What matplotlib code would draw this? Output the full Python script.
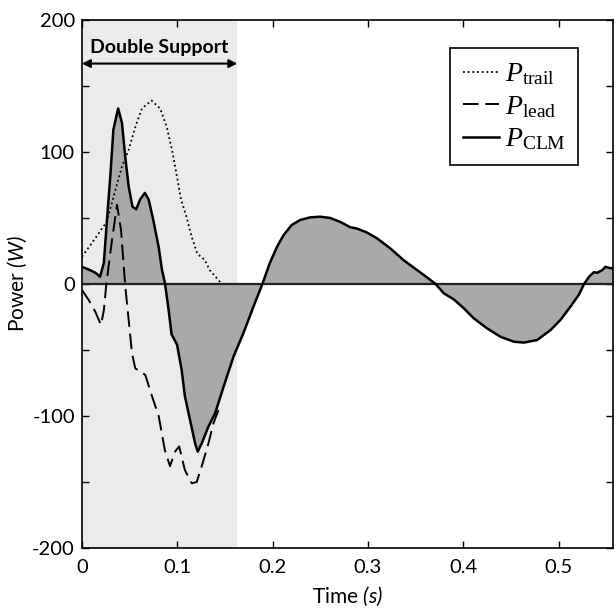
import matplotlib
matplotlib.use("Agg")
import matplotlib.pyplot as plt
from matplotlib.ticker import MultipleLocator

plt.rcParams["font.family"] = ["Lato", "DejaVu Sans"]
plt.rcParams["axes.unicode_minus"] = False
plt.rcParams["mathtext.fontset"] = "custom"
plt.rcParams["mathtext.rm"] = "Liberation Serif"
plt.rcParams["mathtext.it"] = "Liberation Serif:italic"
plt.rcParams["mathtext.sf"] = "Lato:italic"

# power of the combined limbs (solid, filled)
t_clm = [0.000, 0.007, 0.014, 0.019, 0.023, 0.026, 0.030, 0.033, 0.038, 0.042,
         0.0455, 0.049, 0.053, 0.057, 0.061, 0.066, 0.070, 0.075, 0.0805, 0.084,
         0.087, 0.091, 0.094, 0.0998, 0.1046, 0.108, 0.1134, 0.1187, 0.1215, 0.1257,
         0.1327, 0.1397, 0.1485, 0.159, 0.1695, 0.180, 0.1893, 0.197, 0.2045, 0.2115,
         0.220, 0.229, 0.2395, 0.250, 0.2605, 0.271, 0.2815, 0.2885, 0.299, 0.3095,
         0.3235, 0.3375, 0.3515, 0.362, 0.371, 0.3795, 0.390, 0.4006, 0.411, 0.425,
         0.439, 0.4531, 0.4636, 0.4776, 0.4917, 0.5022, 0.5126, 0.5214, 0.5267, 0.532,
         0.537, 0.5406, 0.546, 0.549, 0.554, 0.557]
p_clm = [13, 11, 8.6, 5.5, 16, 46, 84, 117, 133, 122,
         96, 74, 58.6, 56.6, 64, 69, 64, 48, 28, 10.6,
         1, -20, -38, -46, -65, -85, -103, -120.7, -127, -120.7,
         -108, -98, -78, -55, -37, -17, 0, 15.7, 28, 37,
         44.7, 48.5, 50.5, 51, 50, 47, 43, 42, 39, 34.6,
         27, 18, 10.6, 5, 0, -7, -11.6, -18.4, -26, -33.6,
         -40, -43.7, -44.4, -42.4, -34.8, -27, -17, -8, 0, 5.5,
         9, 8.5, 10.6, 13, 12, 12]

# trailing leg (dotted)
t_trail = [0.000, 0.0105, 0.021, 0.026, 0.035, 0.042, 0.049, 0.056, 0.063, 0.073,
           0.082, 0.089, 0.0945, 0.0998, 0.104, 0.110, 0.115, 0.121, 0.129, 0.134,
           0.1467]
p_trail = [20.7, 31, 42, 47, 71, 89, 101.5, 119, 133, 139,
           133, 119, 101.5, 81, 64, 50, 36, 23, 18, 10.6,
           0]

# leading leg (dashed)
t_lead = [0.000, 0.007, 0.014, 0.020, 0.023, 0.0256, 0.0315, 0.0368, 0.041, 0.0455,
          0.049, 0.0525, 0.056, 0.061, 0.0665, 0.0735, 0.0805, 0.087, 0.0924, 0.0977,
          0.102, 0.108, 0.1152, 0.1204, 0.1257, 0.1327, 0.138, 0.1432]
p_lead = [-4.5, -12, -21, -31, -20, 0, 33, 60, 41, -2,
          -27, -52.5, -64, -66, -69, -85, -100, -126, -138, -127,
          -123, -141, -151, -150, -138, -120.7, -105.5, -95.5]

ds_end = 0.163


def main():
    fig = plt.figure(figsize=(6.16, 6.12), dpi=100)
    ax = fig.add_axes([0.133, 0.1046, 0.862, 0.8627])

    ax.axvspan(0, ds_end, color="#ebebeb", lw=0, zorder=0)
    ax.fill_between(t_clm, p_clm, 0, color="#a9a9a9", lw=0, zorder=1)
    ax.axhline(0, color="#222222", lw=1.6, zorder=2)

    ax.plot(t_trail, p_trail, color="black", lw=1.3, ls=(0, (1, 1.6)),
            zorder=3, label=r"$P_{\mathrm{trail}}$")
    ax.plot(t_lead, p_lead, color="black", lw=1.4, ls=(0, (8, 3.5)),
            zorder=3, label=r"$P_{\mathrm{lead}}$")
    ax.plot(t_clm, p_clm, color="black", lw=1.8, zorder=4,
            label=r"$P_{\mathrm{CLM}}$")

    ax.annotate("", xy=(0, 167), xytext=(ds_end, 167),
                arrowprops=dict(arrowstyle="<|-|>", color="black", lw=1.5,
                                mutation_scale=12, shrinkA=0, shrinkB=0))
    ax.text(ds_end / 2, 179, "Double Support", ha="center", va="center",
            fontsize=14, fontweight="bold")

    ax.set_xlim(0, 0.557)
    ax.set_ylim(-200, 200)
    ax.yaxis.set_major_locator(MultipleLocator(100))
    ax.yaxis.set_minor_locator(MultipleLocator(50))
    ax.set_xticks([0, 0.1, 0.2, 0.3, 0.4, 0.5])
    ax.set_xticklabels(["0", "0.1", "0.2", "0.3", "0.4", "0.5"])
    ax.tick_params(which="both", direction="in", top=True, right=True,
                   labelsize=14.5, width=1)
    ax.tick_params(which="major", length=5, pad=5)
    ax.tick_params(axis="x", which="major", pad=8)
    ax.tick_params(which="minor", length=5)
    for s in ax.spines.values():
        s.set_linewidth(1.2)

    ax.set_xlabel(r"Time $\mathsf{(s)}$", fontsize=15, labelpad=6)
    ax.set_ylabel(r"Power $\mathsf{(W)}$", fontsize=15, labelpad=2)

    leg = ax.legend(loc="upper right", bbox_to_anchor=(0.934, 0.947),
                    borderaxespad=0, fancybox=False, framealpha=1,
                    edgecolor="black", fontsize=20, handlelength=1.3,
                    handletextpad=0.2, labelspacing=0.2, borderpad=0.45)
    leg.get_frame().set_linewidth(1.2)

    fig.savefig("out.png", dpi=100)


main()
